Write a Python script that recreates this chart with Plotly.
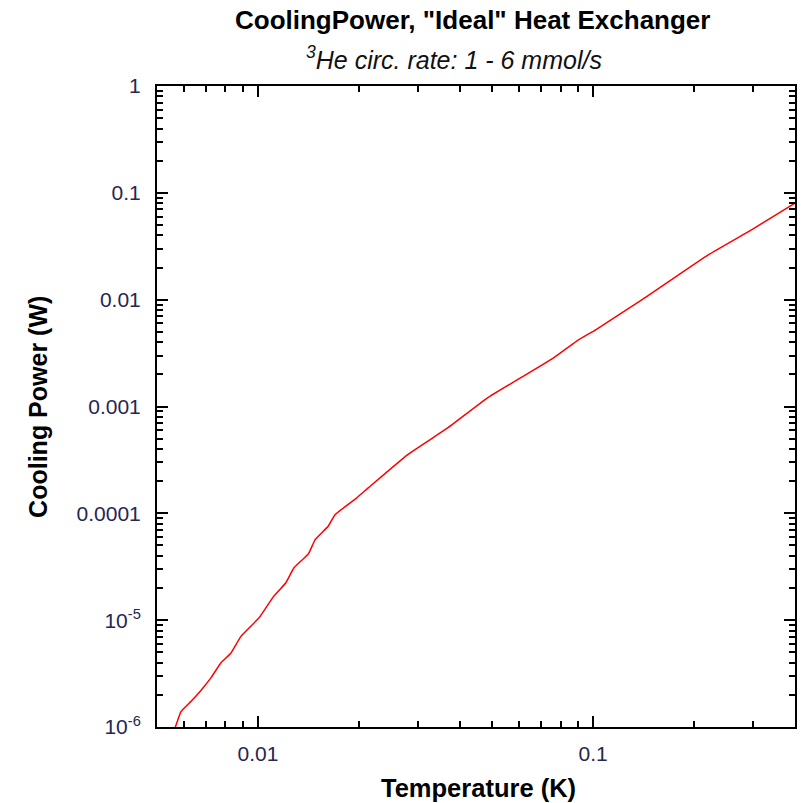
import numpy as np
import plotly.graph_objects as go

# Cooling power of a dilution refrigerator with an ideal heat exchanger
temperature_K = [0.0056, 0.00567, 0.0059, 0.00632, 0.00676, 0.00724, 0.00776, 0.0083,
                 0.0089, 0.01007, 0.01114, 0.0121, 0.0128, 0.01416, 0.01482, 0.0162,
                 0.01698, 0.01968, 0.02133, 0.02799, 0.0368, 0.0483, 0.0607, 0.0762,
                 0.0891, 0.102, 0.140, 0.221, 0.30, 0.40]
cooling_power_W = [9.4e-7, 1.0e-6, 1.4e-6, 1.74e-6, 2.2e-6, 2.88e-6, 4.0e-6, 4.9e-6,
                   7.05e-6, 1.05e-5, 1.67e-5, 2.23e-5, 3.08e-5, 4.2e-5, 5.67e-5, 7.56e-5,
                   9.7e-5, 1.39e-4, 1.73e-4, 3.55e-4, 6.3e-4, 1.2e-3, 1.85e-3, 2.85e-3,
                   4.08e-3, 5.25e-3, 0.01, 0.0264, 0.046, 0.08]

x_tick_vals = [0.01, 0.1]
x_tick_text = ["0.01", "0.1"]
y_tick_vals = [1e-6, 1e-5, 1e-4, 1e-3, 1e-2, 1e-1, 1]
y_tick_text = ["10<sup>-6</sup>", "10<sup>-5</sup>", "0.0001", "0.001", "0.01", "0.1", "1"]

title_text = "<b>CoolingPower, \"Ideal\" Heat Exchanger</b>"
subtitle_text = "<i><sup>3</sup>He circ. rate: 1 - 6 mmol/s</i>"
x_title = "<b>Temperature (K)</b>"
y_title = "<b>Cooling Power (W)</b>"

FONT = "Liberation Sans, Arial, sans-serif"
TICK_COLOR = "#26264f"

fig = go.Figure()
fig.add_trace(go.Scatter(
    x=temperature_K, y=cooling_power_W, mode="lines",
    line=dict(color="#ff0000", width=1.5, shape="spline", smoothing=0.4),
    showlegend=False,
))

axis_common = dict(
    type="log", showline=True, linecolor="black", linewidth=2, mirror="allticks",
    ticks="inside", ticklen=11, tickwidth=1.5, tickcolor="black",
    showgrid=False, zeroline=False,
    tickfont=dict(family=FONT, size=21, color=TICK_COLOR),
    minor=dict(ticks="inside", ticklen=6, tickwidth=1.5, tickcolor="black",
               dtick="D1", showgrid=False),
)

fig.update_xaxes(range=[np.log10(0.005), np.log10(0.4)], tickmode="array",
                 tickvals=x_tick_vals, ticktext=x_tick_text,
                 ticklabelstandoff=7, **axis_common)
fig.update_yaxes(range=[-6, 0], tickmode="array",
                 tickvals=y_tick_vals, ticktext=y_tick_text,
                 ticklabelstandoff=10, **axis_common)

annotations = [
    dict(text=title_text, x=0.494, y=1.103, font=dict(size=26, color="black")),
    dict(text=subtitle_text, x=0.466, y=1.0437, font=dict(size=25, color="#111")),
    dict(text=x_title, x=0.5047, y=-0.0945, font=dict(size=25.5, color="black")),
    dict(text=y_title, x=-0.1875, y=0.5, textangle=-90, font=dict(size=25, color="black")),
]
for a in annotations:
    a.update(xref="paper", yref="paper", showarrow=False,
             xanchor="center", yanchor="middle")
    a["font"]["family"] = FONT

fig.update_layout(
    width=802, height=803,
    margin=dict(l=157, r=5, t=86, b=76),
    paper_bgcolor="white", plot_bgcolor="white",
    annotations=annotations,
)

fig.write_html("out.html")
